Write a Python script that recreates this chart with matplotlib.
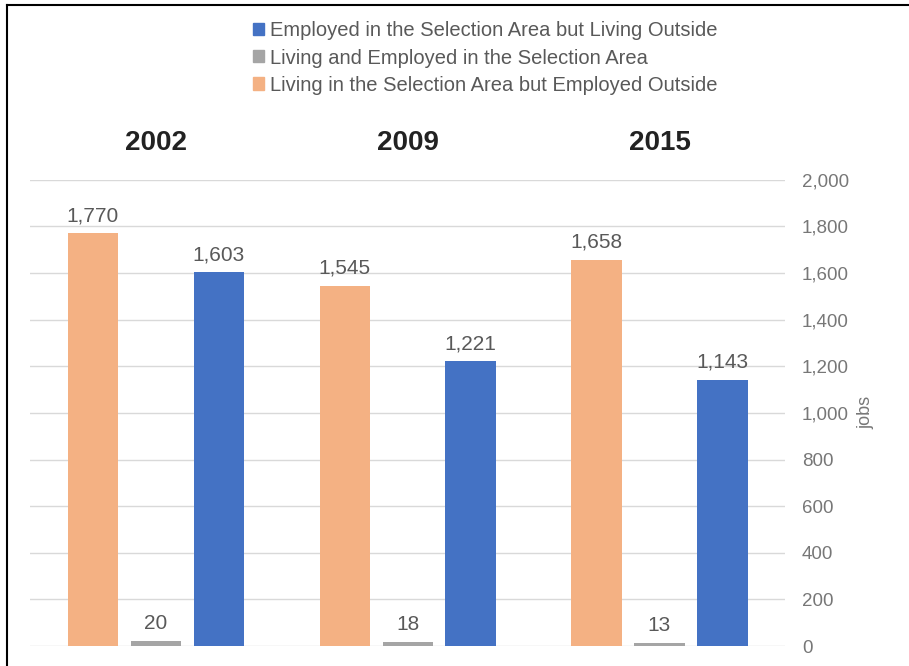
import numpy as np
import matplotlib
matplotlib.use("Agg")
import matplotlib.pyplot as plt
from matplotlib.patches import Patch
from matplotlib.lines import Line2D

years = ["2002", "2009", "2015"]
living_outside_emp = [1770, 1545, 1658]   # Living in the Selection Area but Employed Outside
living_and_emp = [20, 18, 13]            # Living and Employed in the Selection Area
emp_outside_living = [1603, 1221, 1143]   # Employed in the Selection Area but Living Outside
yticks = [0, 200, 400, 600, 800, 1000, 1200, 1400, 1600, 1800, 2000]

c_orange = "#F4B183"
c_gray = "#A5A5A5"
c_blue = "#4472C4"
txt = "#595959"

plt.rcParams['font.family'] = ['Liberation Sans', 'DejaVu Sans']

fig = plt.figure(figsize=(9.09, 6.66), dpi=100)
ax = fig.add_axes([0.033, 0.030, 0.831, 0.700])

x = np.arange(len(years))
w = 0.2
step = 0.25
series = [(living_outside_emp, c_orange), (living_and_emp, c_gray), (emp_outside_living, c_blue)]
for i, (vals, col) in enumerate(series):
    pos = x + (i - 1) * step
    ax.bar(pos, vals, width=w, color=col, zorder=3)
    for p, v in zip(pos, vals):
        ax.text(p, v + 35, f"{v:,}", ha='center', va='bottom', fontsize=15, color=txt)

ax.set_xlim(-0.5, 2.5)
ax.set_ylim(0, 2000)
ax.set_yticks(yticks)
ax.set_yticklabels([f"{t:,}" for t in yticks])
ax.yaxis.tick_right()
ax.yaxis.set_label_position('right')
ax.tick_params(axis='y', length=0, pad=12, labelsize=13.5, labelcolor="#777777")
ax.set_xticks([])
ax.set_ylabel("jobs", fontsize=13, color="#777777", labelpad=6)
ax.grid(axis='y', color="#D9D9D9", linewidth=1, zorder=0)
for s in ax.spines.values():
    s.set_visible(False)

for xi, yr in zip(x, years):
    ax.text(xi, 2160, yr, ha='center', va='center', fontsize=20, fontweight='bold', color="#222222")

handles = [Patch(color=c_blue), Patch(color=c_gray), Patch(color=c_orange)]
labels = ["Employed in the Selection Area but Living Outside",
          "Living and Employed in the Selection Area",
          "Living in the Selection Area but Employed Outside"]
leg = fig.legend(handles, labels, loc='upper center', bbox_to_anchor=(0.534, 0.995),
                 frameon=False, fontsize=14.5, handlelength=0.55, handleheight=0.55,
                 handletextpad=0.3, labelspacing=0.4, alignment='left')
for t in leg.get_texts():
    t.set_color(txt)

# frame lines on top and left only
fig.add_artist(Line2D([0.008, 1.0], [0.992, 0.992], transform=fig.transFigure, color='black', linewidth=1.5))
fig.add_artist(Line2D([0.008, 0.008], [0.0, 0.992], transform=fig.transFigure, color='black', linewidth=1.5))

fig.savefig("out.png", dpi=100)
